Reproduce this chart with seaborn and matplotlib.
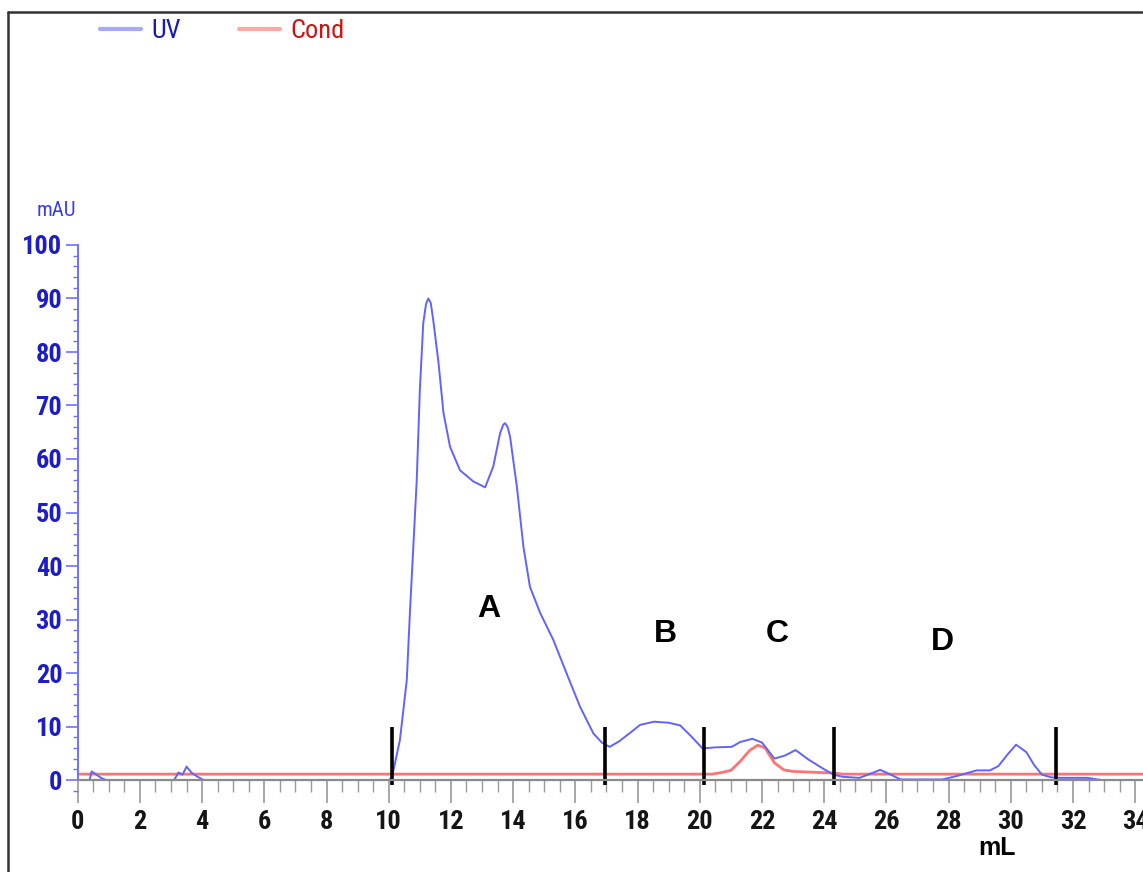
import matplotlib
matplotlib.use("Agg")
import matplotlib.pyplot as plt
from matplotlib.lines import Line2D
from matplotlib.ticker import MultipleLocator
from matplotlib import font_manager
import seaborn as sns
import pandas as pd

# ---------------- data ----------------
uv_ml = [0, 0.38, 0.45, 0.6, 0.75, 0.9, 3.1, 3.24, 3.37, 3.5, 3.67, 3.83, 4.04,
         10.0, 10.1, 10.36, 10.58, 10.68, 10.79, 10.9, 11.0, 11.11, 11.2, 11.27, 11.35, 11.43,
         11.6, 11.76, 11.97, 12.29, 12.72, 13.1, 13.36, 13.58, 13.68, 13.74, 13.82, 13.9, 14.12,
         14.33, 14.54, 14.87, 15.29, 15.72, 16.15, 16.58, 16.85, 17.1, 17.4, 17.8,
         18.08, 18.53, 19.0, 19.37, 19.7, 20.09, 20.5, 21.03, 21.3, 21.69, 22.0,
         22.4, 22.75, 23.08, 23.5, 24.0, 24.3, 24.6, 25.13, 25.5, 25.8, 26.1, 26.46,
         27.8, 28.3, 28.9, 29.33, 29.6, 29.9, 30.17, 30.5, 30.75, 31.0, 31.3, 31.6,
         32.46, 32.9, 34.25]
uv_mau = [0, 0, 1.6, 1.0, 0.4, 0, 0, 1.4, 1.0, 2.5, 1.3, 0.7, 0,
          0, 0.4, 7.5, 18.7, 31.2, 43.6, 56.0, 72.9, 85.4, 89.0, 90.0, 89.2, 86.0,
          78.0, 68.6, 62.3, 57.9, 55.8, 54.7, 58.6, 64.8, 66.4, 66.7, 66.0, 64.2, 54.8,
          43.6, 36.1, 31.2, 26.2, 19.9, 13.7, 8.7, 7.0, 6.2, 7.2, 9.0,
          10.3, 10.9, 10.7, 10.2, 8.3, 5.9, 6.1, 6.2, 7.1, 7.7, 7.0,
          4.0, 4.6, 5.6, 3.8, 2.0, 1.0, 0.6, 0.4, 1.2, 1.9, 1.1, 0.1,
          0.1, 0.8, 1.8, 1.8, 2.6, 4.8, 6.6, 5.2, 2.8, 1.0, 0.5, 0.4,
          0.4, 0.0, 0.0]

cond_ml = [0, 20.4, 20.7, 21.0, 21.3, 21.6, 21.86, 22.1, 22.4, 22.7, 23.0, 24.3, 24.6, 34.25]
cond_mau = [1.1, 1.1, 1.4, 1.8, 3.5, 5.5, 6.5, 6.0, 3.2, 1.9, 1.6, 1.3, 1.1, 1.1]

fraction_cuts = [10.1, 16.95, 20.15, 24.3, 31.45]
fraction_names = ["A", "B", "C", "D"]
fraction_label_x = [13.2, 18.9, 22.5, 27.8]
fraction_label_y = [32.0, 27.3, 27.3, 25.8]

x_ticks = list(range(0, 36, 2))
y_ticks = list(range(0, 101, 10))

# ---------------- style ----------------
sns.set_style("white")

# pick the narrowest installed sans family for the instrument-style labels
fonts = font_manager.fontManager.ttflist
names = {f.name for f in fonts}
narrow_family = None
narrow_stretch = "normal"
for cand in ["Liberation Sans Narrow", "Roboto Condensed", "Open Sans Condensed",
             "Noto Sans Condensed", "DejaVu Sans Condensed"]:
    if cand in names:
        narrow_family = cand
        break
if narrow_family is None:
    for fam in ["Liberation Sans", "DejaVu Sans", "Noto Sans", "Roboto", "Open Sans"]:
        if any(f.name == fam and f.stretch in ("condensed", "semi-condensed", "extra-condensed")
               for f in fonts):
            narrow_family = fam
            narrow_stretch = "condensed"
            break
if narrow_family is None:
    narrow_family = "Liberation Sans" if "Liberation Sans" in names else "DejaVu Sans"
    tick_fs = 16
else:
    tick_fs = 19

plt.rcParams["font.family"] = [narrow_family, "DejaVu Sans"]
plt.rcParams["font.stretch"] = narrow_stretch

uv_color = "#6262ff"
cond_color = "#ff5a5a"
ytxt_color = "#1c1cc8"

fig = plt.figure(figsize=(11.43, 8.72), dpi=100)
W, H = 1143, 872
ax = fig.add_axes([77.7 / W, (H - 790.7) / H, 1 - 77.7 / W, (790.7 - 245) / H])

uv_df = pd.DataFrame({"mL": uv_ml, "mAU": uv_mau})
cond_df = pd.DataFrame({"mL": cond_ml, "mAU": cond_mau})
sns.lineplot(data=cond_df, x="mL", y="mAU", ax=ax, color=cond_color, lw=2.0,
             alpha=0.85, label="Cond", estimator=None, sort=False)
sns.lineplot(data=uv_df, x="mL", y="mAU", ax=ax, color=uv_color, lw=1.4,
             label="UV", estimator=None, sort=False)

for c in fraction_cuts:
    ax.plot([c, c], [-1.0, 9.9], color="black", lw=2.6, solid_capstyle="butt")

for n, tx, ty in zip(fraction_names, fraction_label_x, fraction_label_y):
    ax.text(tx, ty, n, ha="center", va="center", fontsize=23, fontweight="bold",
            family=["Liberation Sans", "DejaVu Sans"], stretch="normal", color="black")

ax.set_xlim(0, 34.25)
ax.set_ylim(-2, 100)
ax.set_xlabel("")
ax.set_ylabel("")

for s in ["top", "right"]:
    ax.spines[s].set_visible(False)
ax.spines["bottom"].set_position(("data", 0))
ax.spines["bottom"].set_color("#8a8a8a")
ax.spines["bottom"].set_linewidth(1.6)
ax.spines["left"].set_bounds(0, 100)
ax.spines["left"].set_color("#7070ff")
ax.spines["left"].set_linewidth(1.4)

ax.set_xticks(x_ticks)
ax.set_xticklabels([str(t) for t in x_ticks])
ax.xaxis.set_minor_locator(MultipleLocator(0.5))
ax.set_yticks(y_ticks)
ax.set_yticklabels([str(t) for t in y_ticks])
ax.yaxis.set_minor_locator(MultipleLocator(2))

ax.tick_params(axis="x", which="major", direction="out", length=16.5, width=1.2,
               color="#9a9a9a", labelsize=tick_fs, labelcolor="#151515", pad=5, bottom=True)
ax.tick_params(axis="x", which="minor", direction="out", length=8.5, width=1.0,
               color="#9a9a9a", bottom=True)
ax.tick_params(axis="y", which="major", direction="out", length=8.6, width=1.2,
               color="#7070ff", labelsize=tick_fs, labelcolor=ytxt_color, pad=2.5, left=True)
ax.tick_params(axis="y", which="minor", direction="out", length=3.5, width=1.0,
               color="#7070ff", left=True)
for lab in ax.get_xticklabels() + ax.get_yticklabels():
    lab.set_fontweight("bold")

ax.text(-0.67, 106.5, "mAU", ha="center", va="center", fontsize=tick_fs - 4,
        color="#3b3bf0", clip_on=False)
ax.text(29.55, -12.7, "mL", ha="center", va="center", fontsize=18, fontweight="bold",
        family=["Liberation Sans", "DejaVu Sans"], stretch="normal", color="black",
        clip_on=False)

# legend
handles, labels = ax.get_legend_handles_labels()
order = [labels.index("UV"), labels.index("Cond")]
leg = ax.legend([handles[i] for i in order], [labels[i] for i in order],
                loc="center left", bbox_to_anchor=(100 / W, 1 - 31 / H),
                bbox_transform=fig.transFigure, ncol=2, frameon=False,
                fontsize=tick_fs, handlelength=1.55, handletextpad=0.4,
                columnspacing=2.2, borderpad=0, borderaxespad=0)
leg_colors = ["#a8a8ff", "#ffa8a8"]
text_colors = ["#1a1ab4", "#cc1414"]
for line, lc in zip(leg.get_lines(), leg_colors):
    line.set_color(lc)
    line.set_alpha(1)
    line.set_linewidth(3)
for t, tc in zip(leg.get_texts(), text_colors):
    t.set_color(tc)

# outer frame
fig.add_artist(Line2D([8 / W, 8 / W], [0, 1 - 12 / H], transform=fig.transFigure,
                      color="#333333", lw=1.8))
fig.add_artist(Line2D([8 / W, 1], [1 - 12 / H, 1 - 12 / H], transform=fig.transFigure,
                      color="#333333", lw=1.8))

fig.savefig("out.png", dpi=100)
